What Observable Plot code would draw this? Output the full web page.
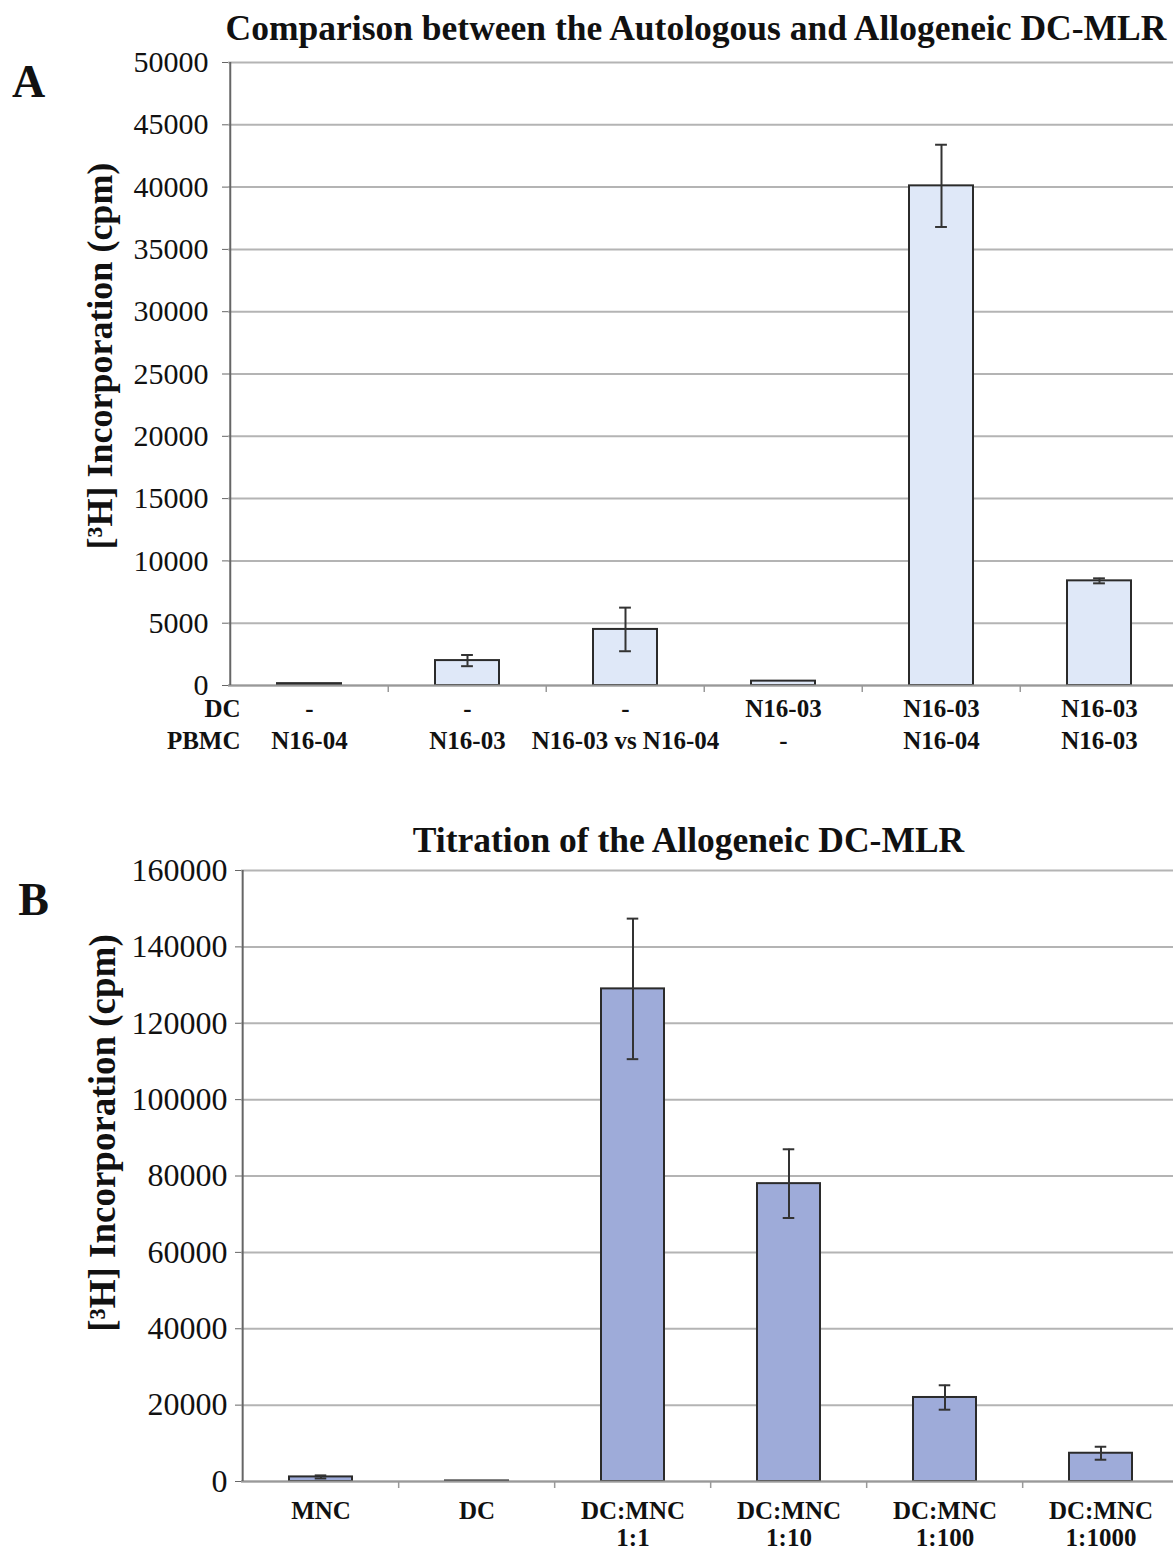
<!DOCTYPE html>
<html>
<head>
<meta charset="utf-8">
<script src="https://cdn.jsdelivr.net/npm/d3@7"></script>
<script src="https://cdn.jsdelivr.net/npm/@observablehq/plot@0.6"></script>
<style>
  html, body { margin: 0; padding: 0; background: #fff; }
  #chart svg { display: block; }
</style>
</head>
<body>
<div id="chart"></div>
<script>
// Panel A: autologous vs allogeneic DC-MLR
const dcA = ["-", "-", "-", "N16-03", "N16-03", "N16-03"];
const pbmcA = ["N16-04", "N16-03", "N16-03 vs N16-04", "-", "N16-04", "N16-03"];
const meanA = [150, 2000, 4500, 350, 40100, 8400];
const errA = [0, 450, 1750, 0, 3300, 200];
const yTicksA = [0, 5000, 10000, 15000, 20000, 25000, 30000, 35000, 40000, 45000, 50000];

// Panel B: titration of the allogeneic DC-MLR
const groupB = ["MNC", "DC", "DC:MNC", "DC:MNC", "DC:MNC", "DC:MNC"];
const ratioB = ["", "", "1:1", "1:10", "1:100", "1:1000"];
const meanB = [1200, 150, 129000, 78000, 22000, 7400];
const errB = [400, 0, 18400, 9000, 3200, 1700];
const yTicksB = [0, 20000, 40000, 60000, 80000, 100000, 120000, 140000, 160000];

const W = 1173;
const SERIF = "'Liberation Serif', 'Times New Roman', serif";
const PAD = 0.595;
const INK = "#111";

function panel(opts) {
  const {keys, mean, err, row1, row2, yTicks, yMax, height, margin, fill,
         tickSize, tickPad, title, titleDx, titleDy, letter, letterDx, letterDy,
         ylabelDx, ylabelDy, ylabelSize, rowDy, rowNames} = opts;
  const data = keys.map((k, i) => ({key: k, row1: row1[i], row2: row2[i], mean: mean[i], err: err[i]}));
  const withErr = data.filter(d => d.err > 0);
  const step = (W - margin.left - margin.right) / keys.length;
  const capInset = (step * (1 - PAD) - 12) / 2;
  const label = {fontWeight: "bold", fill: INK, lineAnchor: "middle"};

  const marks = [
    Plot.gridY(yTicks, {stroke: "#b4b4b4", strokeOpacity: 1, strokeWidth: 2}),
    Plot.axisY(yTicks, {tickSize: 6, tickPadding: tickPad, fontSize: tickSize, tickFormat: d3.format("d"),
      label: null, stroke: "#666", color: INK}),
    Plot.barY(data, {x: "key", y: "mean", fill, stroke: "#2b2b2b", strokeWidth: 2}),
    Plot.ruleX(withErr, {x: "key", y1: d => d.mean - d.err, y2: d => d.mean + d.err, stroke: "#333", strokeWidth: 2}),
    Plot.tickY(withErr, {x: "key", y: d => d.mean + d.err, stroke: "#333", strokeWidth: 2, insetLeft: capInset, insetRight: capInset}),
    Plot.tickY(withErr, {x: "key", y: d => d.mean - d.err, stroke: "#333", strokeWidth: 2, insetLeft: capInset, insetRight: capInset}),
    // baseline and left axis line
    Plot.ruleY([0], {stroke: "#999", strokeWidth: 2}),
    Plot.ruleX([keys[0]], {x: d => d, dx: -step / 2, stroke: "#666", strokeWidth: 2}),
    // category boundary ticks below the baseline
    Plot.ruleX(keys.slice(1), {x: d => d, y1: 0, y2: 0, dx: -step / 2, insetBottom: -7, stroke: "#999", strokeWidth: 1.5}),
    // category labels in two rows
    Plot.text(data, {x: "key", text: "row1", frameAnchor: "bottom", dy: rowDy[0], fontSize: 25, textAnchor: "middle", ...label}),
    Plot.text(data, {x: "key", text: "row2", frameAnchor: "bottom", dy: rowDy[1], fontSize: 25, textAnchor: "middle", ...label}),
    // title, panel letter and y label
    Plot.text([title], {frameAnchor: "top", dx: titleDx, dy: titleDy, fontSize: 35.5, textAnchor: "middle", ...label}),
    Plot.text([letter], {frameAnchor: "top-left", dx: letterDx, dy: letterDy, fontSize: 46, textAnchor: "middle", ...label}),
    Plot.text(["[³H] Incorporation (cpm)"], {frameAnchor: "left", rotate: -90, dx: ylabelDx, dy: ylabelDy,
      fontSize: ylabelSize, textAnchor: "middle", ...label})
  ];
  if (rowNames) {
    rowNames.forEach((name, i) => {
      marks.push(Plot.text([name], {frameAnchor: "bottom-left", dx: 12, dy: rowDy[i], fontSize: 25, textAnchor: "end", ...label}));
    });
  }
  return Plot.plot({
    width: W,
    height,
    marginTop: margin.top,
    marginBottom: margin.bottom,
    marginLeft: margin.left,
    marginRight: margin.right,
    style: {fontFamily: SERIF, background: "#fff", overflow: "visible"},
    x: {type: "band", domain: keys, paddingInner: PAD, paddingOuter: PAD / 2, axis: null},
    y: {domain: [0, yMax], axis: null},
    marks
  });
}

const keysA = dcA.map((d, i) => `${d} / ${pbmcA[i]}`);
const keysB = groupB.map((d, i) => `${d} ${ratioB[i]}`);

const chartA = panel({
  keys: keysA, mean: meanA, err: errA, row1: dcA, row2: pbmcA,
  yTicks: yTicksA, yMax: 50000, height: 780,
  margin: {top: 62, bottom: 95, left: 228, right: -6},
  fill: "#dfe8f8", tickSize: 30, tickPad: 14,
  title: "Comparison between the Autologous and Allogeneic DC-MLR", titleDx: -8, titleDy: -34,
  letter: "A", letterDx: -200, letterDy: 20,
  ylabelDx: -128, ylabelDy: -18, ylabelSize: 36,
  rowDy: [23, 55], rowNames: ["DC", "PBMC"]
});

const chartB = panel({
  keys: keysB, mean: meanB, err: errB, row1: groupB, row2: ratioB,
  yTicks: yTicksB, yMax: 160000, height: 769,
  margin: {top: 90, bottom: 68, left: 241, right: -8},
  fill: "#9eabd9", tickSize: 32, tickPad: 8,
  title: "Titration of the Allogeneic DC-MLR", titleDx: -23, titleDy: -30,
  letter: "B", letterDx: -208, letterDy: 30,
  ylabelDx: -138, ylabelDy: -43, ylabelSize: 37,
  rowDy: [29, 56], rowNames: null
});

document.getElementById("chart").append(chartA, chartB);
</script>
</body>
</html>
